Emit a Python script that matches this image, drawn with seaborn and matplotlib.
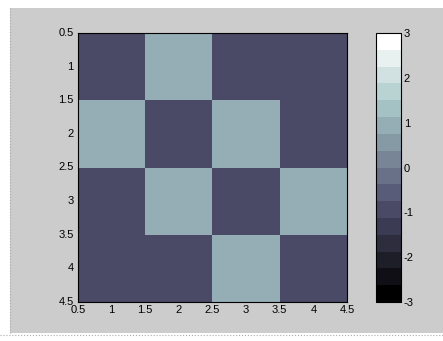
import numpy as np
import matplotlib
matplotlib.use("Agg")
import matplotlib.pyplot as plt
from matplotlib.patches import Rectangle
from matplotlib.lines import Line2D
import seaborn as sns

# valeurs de la matrice (ligne par ligne)
values = [
    [-1, 1, -1, -1],
    [1, -1, 1, -1],
    [-1, 1, -1, 1],
    [-1, -1, 1, -1],
]
axis_ticks = [0.5, 1, 1.5, 2, 2.5, 3, 3.5, 4, 4.5]
cbar_ticks = [-3, -2, -1, 0, 1, 2, 3]
n_levels = 16

sns.set_style("white")
plt.rcParams['font.family'] = ['Liberation Sans', 'DejaVu Sans']
plt.rcParams['axes.unicode_minus'] = False

W, H = 443, 341
fig = plt.figure(figsize=(W / 100, H / 100), dpi=100)
fig.patch.set_facecolor('white')

# fond gris façon fenêtre de figure
fig.patches.append(Rectangle((10 / W, 8 / H), 1 - 10 / W, 1 - 16 / H,
                             transform=fig.transFigure, facecolor='#cccccc',
                             edgecolor='none', zorder=-10))
fig.lines.append(Line2D([10 / W, 10 / W], [8 / H, 1 - 8 / H], transform=fig.transFigure,
                        color='#aaaaaa', linestyle=':', linewidth=0.8, zorder=-5))
fig.lines.append(Line2D([0, 1], [6 / H, 6 / H], transform=fig.transFigure,
                        color='#aaaaaa', linestyle=':', linewidth=0.8, zorder=-5))

ax = fig.add_axes([78 / W, 1 - 302 / H, (347 - 78) / W, (302 - 33) / H])
cax = fig.add_axes([376 / W, 1 - 302 / H, 25 / W, 269 / H])

cmap = plt.get_cmap('bone', n_levels)
sns.heatmap(np.array(values), ax=ax, cbar_ax=cax, cmap=cmap, vmin=-3, vmax=3,
            square=False, linewidths=0)

# axes dans le style matlab
pos = [t - 0.5 for t in axis_ticks]
labels = [f"{t:g}" for t in axis_ticks]
ax.set_xticks(pos)
ax.set_xticklabels(labels, rotation=0)
ax.set_yticks(pos)
ax.set_yticklabels(labels, rotation=0)
ax.tick_params(direction='in', length=3, width=0.6, top=True, right=True,
               labelsize=8, pad=2, colors='black')
ax.tick_params(axis='y', pad=3)
for s in ax.spines.values():
    s.set_visible(True)
    s.set_linewidth(0.8)
    s.set_color('black')

cb = ax.collections[0].colorbar
cb.set_ticks(cbar_ticks)
cb.set_ticklabels([str(t) for t in cbar_ticks])
cb.outline.set_linewidth(0.8)
cb.outline.set_edgecolor('black')
cax.tick_params(direction='in', length=3, width=0.6, left=True, right=True,
                labelsize=8, pad=2, colors='black')

fig.savefig('out.png', dpi=100)
